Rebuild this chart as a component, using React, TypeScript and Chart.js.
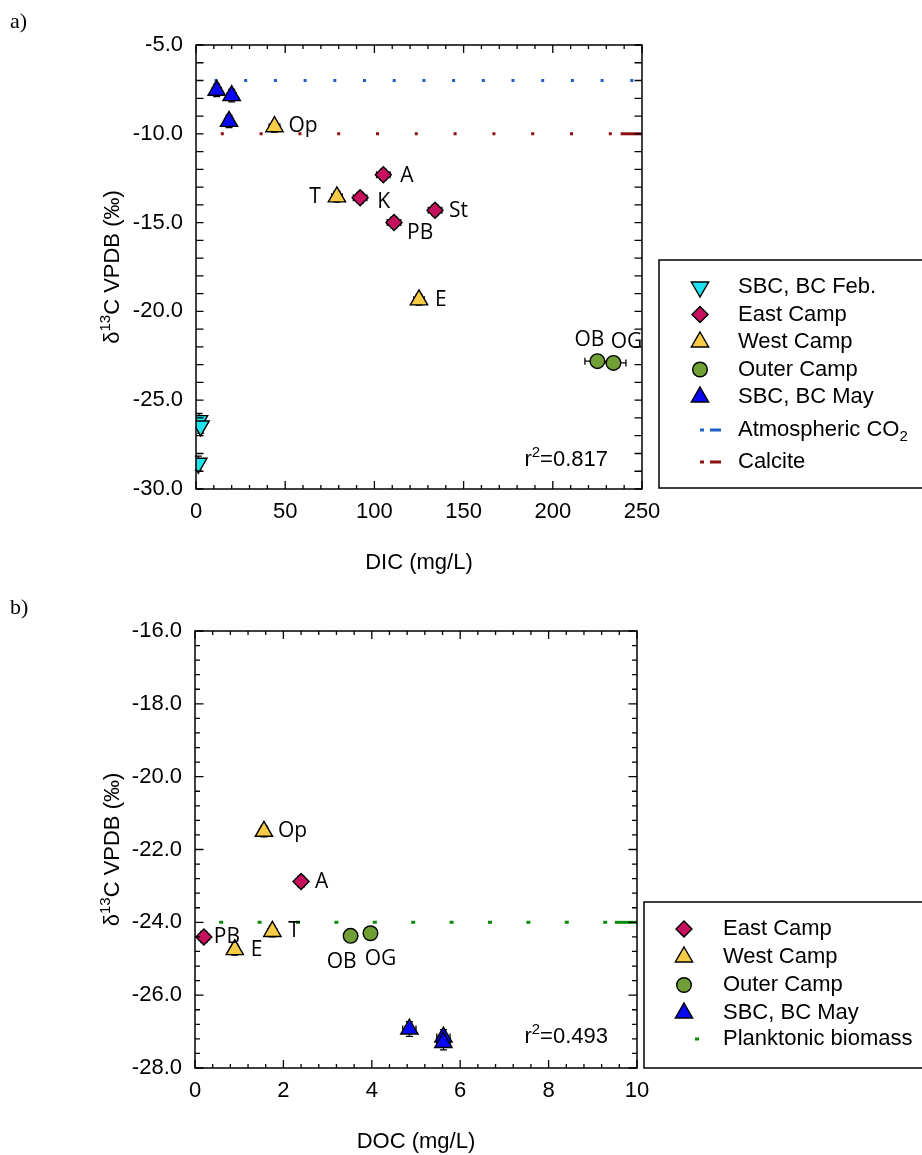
import React, { useEffect, useRef } from 'react';
import { Chart, registerables } from 'chart.js';
Chart.register(...registerables);

// ---------------- Panel a: DIC vs d13C ----------------
const dicTicks = [0, 50, 100, 150, 200, 250];
const d13cTicksA = [-30, -25, -20, -15, -10, -5];

const dicFebX = [1.7, 2.6, 1.3];
const dicFebY = [-26.15, -26.45, -28.55];
const dicFebXErr = [1, 1, 1];
const dicFebYErr = [0.4, 0.4, 0.4];

const dicEastNames = ['A', 'K', 'PB', 'St'];
const dicEastX = [105, 92, 111, 134];
const dicEastY = [-12.3, -13.6, -15.0, -14.3];
const dicEastXErr = [3.8, 3.8, 3.8, 3.8];
const dicEastYErr = [0.3, 0.3, 0.3, 0.3];

const dicWestNames = ['Op', 'T', 'E'];
const dicWestX = [44, 79, 125];
const dicWestY = [-9.6, -13.55, -19.35];
const dicWestXErr = [3, 3, 3];
const dicWestYErr = [0.3, 0.3, 0.3];

const dicOuterNames = ['OB', 'OG'];
const dicOuterX = [225, 234];
const dicOuterY = [-22.8, -22.9];
const dicOuterXErr = [7, 7];
const dicOuterYErr = [0.2, 0.2];

const dicMayX = [11.6, 20, 18.5];
const dicMayY = [-7.55, -7.85, -9.3];
const dicMayXErr = [2.5, 2.5, 2.5];
const dicMayYErr = [0.35, 0.35, 0.35];

const atmCO2 = -7;
const calcite = -10;
const dicLineX = [0, 250];
const calciteEndX = [238, 250];
const r2A = '0.817';

// ---------------- Panel b: DOC vs d13C ----------------
const docTicks = [0, 2, 4, 6, 8, 10];
const d13cTicksB = [-28, -26, -24, -22, -20, -18, -16];

const docEastNames = ['A', 'PB'];
const docEastX = [2.4, 0.2];
const docEastY = [-22.88, -24.4];
const docEastXErr = [0.12, 0.12];
const docEastYErr = [0.15, 0.15];

const docWestNames = ['Op', 'T', 'E'];
const docWestX = [1.56, 1.75, 0.9];
const docWestY = [-21.5, -24.25, -24.75];
const docWestXErr = [0.1, 0.1, 0.1];
const docWestYErr = [0.15, 0.15, 0.15];

const docOuterNames = ['OB', 'OG'];
const docOuterX = [3.52, 3.97];
const docOuterY = [-24.37, -24.3];
const docOuterXErr = [0.13, 0.13];
const docOuterYErr = [0.15, 0.15];

const docMayX = [4.85, 5.62, 5.62];
const docMayY = [-26.93, -27.15, -27.3];
const docMayXErr = [0.15, 0.15, 0.15];
const docMayYErr = [0.2, 0.2, 0.2];

const planktonic = -24;
const docLineX = [0, 10];
const planktonicEndX = [9.5, 10];
const r2B = '0.493';

// ---------------- styles ----------------
const AXIS_FONT = '"Liberation Sans", Arial, sans-serif';
const LABEL_FONT = '"Open Sans", sans-serif';
const SERIF = '"Liberation Serif", "Times New Roman", serif';

const STY = {
  feb: { label: 'SBC, BC Feb.', style: 'triangle', rot: 180, bg: '#1FE3EF', r: 10 },
  east: { label: 'East Camp', style: 'rectRot', rot: 0, bg: '#C7115F', r: 8 },
  west: { label: 'West Camp', style: 'triangle', rot: 0, bg: '#F7CB45', r: 10 },
  outer: { label: 'Outer Camp', style: 'circle', rot: 0, bg: '#70A035', r: 7.3 },
  may: { label: 'SBC, BC May', style: 'triangle', rot: 0, bg: '#0808F5', r: 10 },
};
const ATM_COLOR = '#1C5FC6';
const CALCITE_COLOR = '#8C1010';
const PLANK_COLOR = '#0A8A0A';
const MARKER_BORDER = 1.4;

type Part = { t: string; s?: 'sup' | 'sub' };
type Series = {
  key: keyof typeof STY;
  xs: number[]; ys: number[]; xe: number[]; ye: number[];
  names?: string[];
  offs?: [number, number, CanvasTextAlign][];
};

function pts(xs: number[], ys: number[]) {
  return xs.map((x, i) => ({ x, y: ys[i] }));
}

function drawRich(ctx: CanvasRenderingContext2D, parts: Part[], x: number, y: number,
  align: 'left' | 'right' | 'center', size: number, family: string) {
  const small = Math.round(size * 0.7);
  const widths = parts.map(p => {
    ctx.font = `${p.s ? small : size}px ${family}`;
    return ctx.measureText(p.t).width;
  });
  const total = widths.reduce((a, b) => a + b, 0);
  let cx = align === 'left' ? x : align === 'right' ? x - total : x - total / 2;
  ctx.textAlign = 'left';
  ctx.textBaseline = 'middle';
  parts.forEach((p, i) => {
    ctx.font = `${p.s ? small : size}px ${family}`;
    const dy = p.s === 'sup' ? -size * 0.33 : p.s === 'sub' ? size * 0.3 : 0;
    ctx.fillText(p.t, cx, y + dy);
    cx += widths[i];
  });
}

function drawMarker(ctx: CanvasRenderingContext2D, style: string, rot: number, r: number,
  x: number, y: number, bg: string) {
  ctx.save();
  ctx.fillStyle = bg;
  ctx.strokeStyle = '#000';
  ctx.lineWidth = MARKER_BORDER;
  ctx.beginPath();
  let rad = (rot * Math.PI) / 180;
  if (style === 'circle') {
    ctx.arc(x, y, r, 0, Math.PI * 2);
  } else if (style === 'triangle') {
    for (let k = 0; k < 3; k++) {
      const px = x + Math.sin(rad) * r, py = y - Math.cos(rad) * r;
      if (k === 0) ctx.moveTo(px, py); else ctx.lineTo(px, py);
      rad += (2 * Math.PI) / 3;
    }
    ctx.closePath();
  } else {
    ctx.moveTo(x - r, y); ctx.lineTo(x, y - r); ctx.lineTo(x + r, y); ctx.lineTo(x, y + r);
    ctx.closePath();
  }
  ctx.fill();
  ctx.stroke();
  ctx.restore();
}

type LegendItem =
  | { kind: 'marker'; key: keyof typeof STY; y: number }
  | { kind: 'line'; color: string; text: Part[]; y: number; dotOnly?: boolean };

type PanelSpec = {
  letter: string; letterY: number;
  xMin: number; xMax: number; yMin: number; yMax: number;
  xTicks: number[]; yTicks: number[];
  xMinor: number; yMinor: number;
  xMajorLen: number; xMinorLen: number; yMajorLen: number; yMinorLen: number;
  xFmt: (v: number) => string; yFmt: (v: number) => string;
  padTop: number; padRight: number; yAxisW: number; xAxisH: number;
  xTitle: string; xTitleY: number; yTitleX: number;
  r2: string; r2X: number; r2Y: number;
  series: Series[];
  lines: any[];
  legend: { left: number; top: number; bottom: number; right: number; markerX: number; textX: number; items: LegendItem[] };
};

function makeConfig(spec: PanelSpec): any {
  const scatterSets = spec.series.map(s => ({
    label: STY[s.key].label,
    data: pts(s.xs, s.ys),
    showLine: false,
    pointStyle: STY[s.key].style,
    pointRotation: STY[s.key].rot,
    pointRadius: STY[s.key].r,
    pointHoverRadius: STY[s.key].r,
    pointBackgroundColor: STY[s.key].bg,
    pointBorderColor: '#000',
    pointBorderWidth: MARKER_BORDER,
    order: 0,
  }));

  const plugin = {
    id: 'panelDecor',
    beforeDatasetsDraw(chart: any) {
      const { ctx } = chart;
      const xs = chart.scales.x, ys = chart.scales.y;
      ctx.save();
      ctx.strokeStyle = '#000';
      ctx.lineWidth = 1.3;
      const cap = 3.5;
      spec.series.forEach(s => {
        s.xs.forEach((xv, i) => {
          const yv = s.ys[i];
          const px = xs.getPixelForValue(xv), py = ys.getPixelForValue(yv);
          const x1 = xs.getPixelForValue(xv - s.xe[i]), x2 = xs.getPixelForValue(xv + s.xe[i]);
          const y1 = ys.getPixelForValue(yv - s.ye[i]), y2 = ys.getPixelForValue(yv + s.ye[i]);
          ctx.beginPath();
          ctx.moveTo(x1, py); ctx.lineTo(x2, py);
          ctx.moveTo(x1, py - cap); ctx.lineTo(x1, py + cap);
          ctx.moveTo(x2, py - cap); ctx.lineTo(x2, py + cap);
          ctx.moveTo(px, y1); ctx.lineTo(px, y2);
          ctx.moveTo(px - cap, y1); ctx.lineTo(px + cap, y1);
          ctx.moveTo(px - cap, y2); ctx.lineTo(px + cap, y2);
          ctx.stroke();
        });
      });
      ctx.restore();
    },
    afterDraw(chart: any) {
      const { ctx, chartArea: a } = chart;
      const xs = chart.scales.x, ys = chart.scales.y;
      ctx.save();
      // frame
      ctx.strokeStyle = '#000';
      ctx.lineWidth = 1.5;
      ctx.strokeRect(a.left, a.top, a.right - a.left, a.bottom - a.top);
      // inward ticks on all four sides
      ctx.lineWidth = 1.3;
      ctx.beginPath();
      const nx = Math.round((spec.xMax - spec.xMin) / spec.xMinor);
      for (let i = 0; i <= nx; i++) {
        const v = spec.xMin + i * spec.xMinor;
        const major = spec.xTicks.some(t => Math.abs(t - v) < 1e-6);
        const L = major ? spec.xMajorLen : spec.xMinorLen;
        const px = xs.getPixelForValue(v);
        ctx.moveTo(px, a.bottom); ctx.lineTo(px, a.bottom - L);
        ctx.moveTo(px, a.top); ctx.lineTo(px, a.top + L);
      }
      const ny = Math.round((spec.yMax - spec.yMin) / spec.yMinor);
      for (let i = 0; i <= ny; i++) {
        const v = spec.yMin + i * spec.yMinor;
        const major = spec.yTicks.some(t => Math.abs(t - v) < 1e-6);
        const L = major ? spec.yMajorLen : spec.yMinorLen;
        const py = ys.getPixelForValue(v);
        ctx.moveTo(a.left, py); ctx.lineTo(a.left + L, py);
        ctx.moveTo(a.right, py); ctx.lineTo(a.right - L, py);
      }
      ctx.stroke();

      ctx.fillStyle = '#000';
      // point labels
      ctx.font = `21px ${LABEL_FONT}`;
      ctx.textBaseline = 'middle';
      spec.series.forEach(s => {
        if (!s.names || !s.offs) return;
        s.names.forEach((n, i) => {
          const [dx, dy, al] = s.offs![i];
          ctx.textAlign = al;
          ctx.fillText(n, xs.getPixelForValue(s.xs[i]) + dx, ys.getPixelForValue(s.ys[i]) + dy);
        });
      });

      // r^2
      drawRich(ctx, [{ t: 'r' }, { t: '2', s: 'sup' }, { t: '=' + spec.r2 }], spec.r2X, spec.r2Y, 'right', 22, AXIS_FONT);

      // x title
      ctx.font = `22px ${AXIS_FONT}`;
      ctx.textAlign = 'center';
      ctx.textBaseline = 'middle';
      ctx.fillText(spec.xTitle, (a.left + a.right) / 2, spec.xTitleY);

      // y title (rotated)
      ctx.save();
      ctx.translate(spec.yTitleX, (a.top + a.bottom) / 2);
      ctx.rotate(-Math.PI / 2);
      drawRich(ctx, [{ t: 'δ' }, { t: '13', s: 'sup' }, { t: 'C VPDB (‰)' }], 0, 0, 'center', 22, AXIS_FONT);
      ctx.restore();

      // panel letter
      ctx.font = `22px ${SERIF}`;
      ctx.textAlign = 'left';
      ctx.textBaseline = 'alphabetic';
      ctx.fillText(spec.letter, 10, spec.letterY);

      // legend
      const lg = spec.legend;
      ctx.strokeStyle = '#000';
      ctx.lineWidth = 1.5;
      ctx.strokeRect(lg.left, lg.top, lg.right - lg.left, lg.bottom - lg.top);
      lg.items.forEach(it => {
        if (it.kind === 'marker') {
          const st = STY[it.key];
          drawMarker(ctx, st.style, st.rot, st.r, lg.markerX, it.y, st.bg);
          ctx.fillStyle = '#000';
          drawRich(ctx, [{ t: st.label }], lg.textX, it.y, 'left', 22, AXIS_FONT);
        } else {
          ctx.strokeStyle = it.color;
          ctx.lineWidth = 3;
          ctx.beginPath();
          if (it.dotOnly) {
            ctx.moveTo(lg.markerX + 11, it.y); ctx.lineTo(lg.markerX + 15, it.y);
          } else {
            ctx.moveTo(lg.markerX, it.y); ctx.lineTo(lg.markerX + 4, it.y);
            ctx.moveTo(lg.markerX + 10, it.y); ctx.lineTo(lg.markerX + 21, it.y);
          }
          ctx.stroke();
          ctx.fillStyle = '#000';
          drawRich(ctx, it.text, lg.textX, it.y, 'left', 22, AXIS_FONT);
        }
      });
      ctx.restore();
    },
  };

  return {
    type: 'scatter',
    data: { datasets: [...scatterSets, ...spec.lines] },
    options: {
      responsive: false,
      maintainAspectRatio: false,
      animation: false,
      events: [],
      layout: { padding: { left: 0, top: spec.padTop, right: spec.padRight, bottom: 0 } },
      plugins: { legend: { display: false }, tooltip: { enabled: false } },
      scales: {
        x: {
          type: 'linear', position: 'bottom', min: spec.xMin, max: spec.xMax,
          grid: { display: false, drawTicks: false }, border: { display: false },
          ticks: { padding: 10, color: '#000', font: { family: AXIS_FONT, size: 22 }, maxRotation: 0, autoSkip: false, callback: (v: any) => spec.xFmt(Number(v)) },
          afterBuildTicks: (s: any) => { s.ticks = spec.xTicks.map(v => ({ value: v })); },
          afterFit: (s: any) => { s.height = spec.xAxisH; },
        },
        y: {
          type: 'linear', position: 'left', min: spec.yMin, max: spec.yMax,
          grid: { display: false, drawTicks: false }, border: { display: false },
          ticks: { padding: 13, color: '#000', font: { family: AXIS_FONT, size: 22 }, autoSkip: false, callback: (v: any) => spec.yFmt(Number(v)) },
          afterBuildTicks: (s: any) => { s.ticks = spec.yTicks.map(v => ({ value: v })); },
          afterFit: (s: any) => { s.width = spec.yAxisW; },
        },
      },
    },
    plugins: [plugin],
  };
}

function refLine(xs: number[], y: number, color: string, dash: number[], offset: number) {
  return {
    label: '',
    data: xs.map(x => ({ x, y })),
    showLine: true,
    borderColor: color,
    borderWidth: 3,
    borderDash: dash,
    borderDashOffset: offset,
    borderCapStyle: 'butt',
    pointRadius: 0,
    pointHoverRadius: 0,
    order: 5,
  };
}

const specA: PanelSpec = {
  letter: 'a)', letterY: 28,
  xMin: 0, xMax: 250, yMin: -30, yMax: -5,
  xTicks: dicTicks, yTicks: d13cTicksA,
  xMinor: 10, yMinor: 1,
  xMajorLen: 8, xMinorLen: 4, yMajorLen: 7.5, yMinorLen: 7.5,
  xFmt: v => String(v), yFmt: v => v.toFixed(1),
  padTop: 45, padRight: 280, yAxisW: 196, xAxisH: 91,
  xTitle: 'DIC (mg/L)', xTitleY: 563, yTitleX: 113,
  r2: r2A, r2X: 608, r2Y: 460,
  series: [
    { key: 'feb', xs: dicFebX, ys: dicFebY, xe: dicFebXErr, ye: dicFebYErr },
    { key: 'east', xs: dicEastX, ys: dicEastY, xe: dicEastXErr, ye: dicEastYErr, names: dicEastNames,
      offs: [[17, 1, 'left'], [17, 4, 'left'], [13, 10, 'left'], [14, 1, 'left']] },
    { key: 'west', xs: dicWestX, ys: dicWestY, xe: dicWestXErr, ye: dicWestYErr, names: dicWestNames,
      offs: [[14, -1, 'left'], [-16, 0, 'right'], [16, 0, 'left']] },
    { key: 'outer', xs: dicOuterX, ys: dicOuterY, xe: dicOuterXErr, ye: dicOuterYErr, names: dicOuterNames,
      offs: [[-8, -21, 'center'], [13, -21, 'center']] },
    { key: 'may', xs: dicMayX, ys: dicMayY, xe: dicMayXErr, ye: dicMayYErr },
  ],
  lines: [
    refLine(dicLineX, atmCO2, ATM_COLOR, [3, 26.7], 11.2),
    refLine(dicLineX, calcite, CALCITE_COLOR, [3, 35.8], 14),
    refLine(calciteEndX, calcite, CALCITE_COLOR, [], 0),
  ],
  legend: {
    left: 659, top: 260, bottom: 488, right: 940, markerX: 700, textX: 738,
    items: [
      { kind: 'marker', key: 'feb', y: 287 },
      { kind: 'marker', key: 'east', y: 314.5 },
      { kind: 'marker', key: 'west', y: 342 },
      { kind: 'marker', key: 'outer', y: 369.5 },
      { kind: 'marker', key: 'may', y: 397 },
      { kind: 'line', color: ATM_COLOR, text: [{ t: 'Atmospheric CO' }, { t: '2', s: 'sub' }], y: 430 },
      { kind: 'line', color: CALCITE_COLOR, text: [{ t: 'Calcite' }], y: 462 },
    ],
  },
};

const specB: PanelSpec = {
  letter: 'b)', letterY: 34,
  xMin: 0, xMax: 10, yMin: -28, yMax: -16,
  xTicks: docTicks, yTicks: d13cTicksB,
  xMinor: 0.4, yMinor: 0.4,
  xMajorLen: 8, xMinorLen: 4, yMajorLen: 8.5, yMinorLen: 5,
  xFmt: v => String(v), yFmt: v => v.toFixed(1),
  padTop: 51, padRight: 285, yAxisW: 195, xAxisH: 87,
  xTitle: 'DOC (mg/L)', xTitleY: 562, yTitleX: 113,
  r2: r2B, r2X: 608, r2Y: 457,
  series: [
    { key: 'east', xs: docEastX, ys: docEastY, xe: docEastXErr, ye: docEastYErr, names: docEastNames,
      offs: [[14, 0, 'left'], [10, 0, 'left']] },
    { key: 'west', xs: docWestX, ys: docWestY, xe: docWestXErr, ye: docWestYErr, names: docWestNames,
      offs: [[14, 0, 'left'], [16, 0, 'left'], [16, 0, 'left']] },
    { key: 'outer', xs: docOuterX, ys: docOuterY, xe: docOuterXErr, ye: docOuterYErr, names: docOuterNames,
      offs: [[-9, 26, 'center'], [10, 26, 'center']] },
    { key: 'may', xs: docMayX, ys: docMayY, xe: docMayXErr, ye: docMayYErr },
  ],
  lines: [
    refLine(docLineX, planktonic, PLANK_COLOR, [4, 34.4], 14.2),
    refLine(planktonicEndX, planktonic, PLANK_COLOR, [], 0),
  ],
  legend: {
    left: 644, top: 322, bottom: 488, right: 940, markerX: 684, textX: 723,
    items: [
      { kind: 'marker', key: 'east', y: 349 },
      { kind: 'marker', key: 'west', y: 377 },
      { kind: 'marker', key: 'outer', y: 405 },
      { kind: 'marker', key: 'may', y: 433 },
      { kind: 'line', color: PLANK_COLOR, text: [{ t: 'Planktonic biomass' }], y: 459, dotOnly: true },
    ],
  },
};

export default function App() {
  const refA = useRef<HTMLCanvasElement>(null);
  const refB = useRef<HTMLCanvasElement>(null);
  useEffect(() => {
    const a = new Chart(refA.current as HTMLCanvasElement, makeConfig(specA));
    const b = new Chart(refB.current as HTMLCanvasElement, makeConfig(specB));
    return () => { a.destroy(); b.destroy(); };
  }, []);
  return (
    <div style={{ position: 'absolute', left: 0, top: 0, width: 922, height: 1155, background: '#fff', overflow: 'hidden' }}>
      <canvas ref={refA} width={922} height={580} style={{ position: 'absolute', left: 0, top: 0, width: 922, height: 580 }} />
      <canvas ref={refB} width={922} height={575} style={{ position: 'absolute', left: 0, top: 580, width: 922, height: 575 }} />
    </div>
  );
}
